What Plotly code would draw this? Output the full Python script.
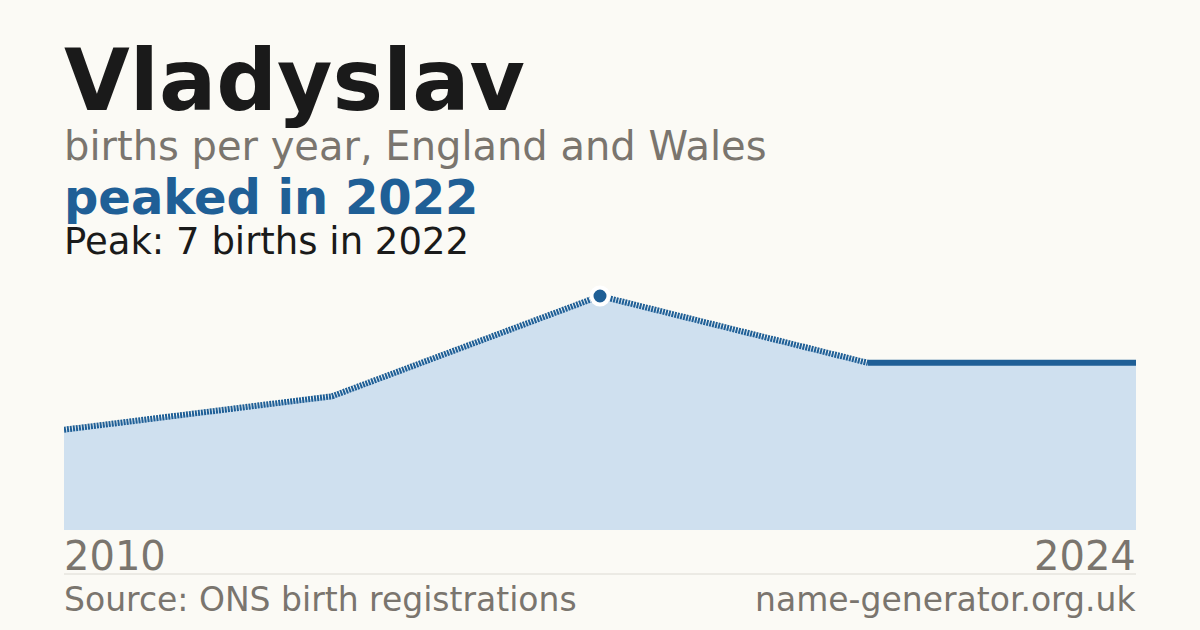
import plotly.graph_objects as go

# births of the name per recorded year (plotted at equal spacing)
years = ["2010", "2016", "2022", "2023", "2024"]
births = [3, 4, 7, 5, 5]
peak_year = "2022"
peak_births = 7

BG = "#fbfaf5"
BLUE = "#1f5f96"
FILL = "#cfe0ef"
GREY = "#7a756e"
INK = "#1a1a1a"
FONT = "DejaVu Sans"

W, H = 1200, 630
L, R, T, B = 64, 64, 270, 100
ymax = peak_births * (H - B - T) / 234  # peak sits ~234px above baseline

idx = list(range(len(years)))
pk = years.index(peak_year)


def py(pixel):
    # pixel row -> paper y
    return (H - B - pixel) / (H - B - T)


fig = go.Figure()

# filled area under the line
fig.add_trace(go.Scatter(x=idx, y=births, mode="lines", line=dict(width=0),
                         fill="tozeroy", fillcolor=FILL, hoverinfo="skip"))

# dashed part of the line
fig.add_trace(go.Scatter(x=idx[:-1], y=births[:-1], mode="lines",
                         line=dict(color=BLUE, width=6, dash="2px,1px")))

# solid last segment
fig.add_trace(go.Scatter(x=idx[-2:], y=births[-2:], mode="lines",
                         line=dict(color=BLUE, width=6)))

# peak marker
fig.add_trace(go.Scatter(x=[idx[pk]], y=[births[pk]], mode="markers",
                         marker=dict(color=BLUE, size=17,
                                     line=dict(color="white", width=4))))

ann = [
    dict(text="<b>Vladyslav</b>", y=py(81), size=85, color=INK),
    dict(text="births per year, England and Wales", y=py(146), size=40, color=GREY),
    dict(text="<b>peaked in %s</b>" % peak_year, y=py(197), size=48, color=BLUE),
    dict(text="Peak: %d births in %s" % (peak_births, peak_year), y=py(241), size=37, color=INK),
    dict(text=years[0], y=py(556), size=40, color=GREY),
    dict(text="Source: ONS birth registrations", y=py(599), size=33, color=GREY),
]
for a in ann:
    fig.add_annotation(text=a["text"], x=0, xref="paper", xanchor="left", xshift=-2,
                       y=a["y"], yref="paper", yanchor="middle", showarrow=False,
                       font=dict(family=FONT, size=a["size"], color=a["color"]))

fig.add_annotation(text=years[-1], x=1, xref="paper", xanchor="right", xshift=2,
                   y=py(556), yref="paper", yanchor="middle", showarrow=False,
                   font=dict(family=FONT, size=40, color=GREY))
fig.add_annotation(text="name-generator.org.uk", x=1, xref="paper", xanchor="right",
                   xshift=2, y=py(599), yref="paper", yanchor="middle", showarrow=False,
                   font=dict(family=FONT, size=33, color=GREY))

fig.add_shape(type="line", xref="paper", yref="paper", x0=0, x1=1,
              y0=py(574), y1=py(574), line=dict(color="#dcdad3", width=1))

fig.update_layout(
    width=W, height=H,
    margin=dict(l=L, r=R, t=T, b=B),
    paper_bgcolor=BG, plot_bgcolor=BG,
    showlegend=False,
    xaxis=dict(range=[0, len(years) - 1], visible=False, fixedrange=True),
    yaxis=dict(range=[0, ymax], visible=False, fixedrange=True),
)

fig.write_html("out.html", config={"displayModeBar": False},
               post_script="document.body.style.margin='0';")
